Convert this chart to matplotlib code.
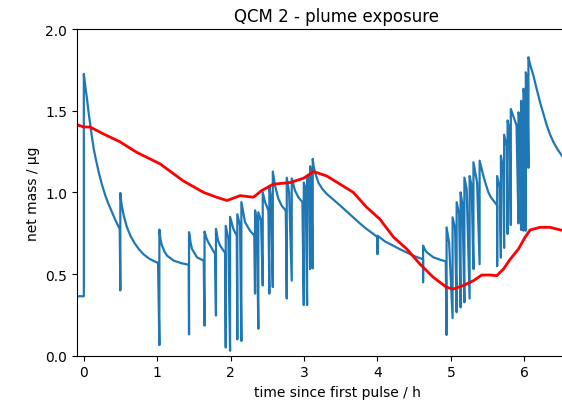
import numpy as np
import matplotlib
matplotlib.use("Agg")
import matplotlib.pyplot as plt

# QCM net mass trace (blue)
# each pulse: a short dip then a jump up, followed by a decay
blue_t = [-0.1, 0.0, 0.0,
          0.02, 0.044, 0.065, 0.089, 0.11, 0.135, 0.165, 0.203, 0.245, 0.293, 0.335, 0.384, 0.435, 0.489,
          0.497, 0.497,
          0.51, 0.525, 0.544, 0.585, 0.634, 0.69, 0.748, 0.81, 0.884, 0.95, 1.011,
          1.029, 1.029,
          1.045, 1.065, 1.10, 1.134, 1.225, 1.33, 1.429,
          1.433, 1.433,
          1.455, 1.474, 1.542, 1.633,
          1.644, 1.644,
          1.67, 1.696, 1.787,
          1.80, 1.80,
          1.825, 1.856, 1.924,
          1.933, 1.933,
          1.969,
          1.992, 1.992,
          2.037, 2.083,
          2.091, 2.091,
          2.128,
          2.146, 2.146,
          2.196, 2.264, 2.323,
          2.332, 2.332,
          2.356,
          2.377, 2.377,
          2.414,
          2.437, 2.437,
          2.469, 2.514,
          2.527, 2.527,
          2.55,
          2.574, 2.574,
          2.59, 2.605, 2.65, 2.696, 2.751,
          2.764, 2.764,
          2.796,
          2.832, 2.832,
          2.877, 2.922, 2.977,
          2.996, 2.996,
          3.023,
          3.041, 3.041,
          3.068,
          3.082, 3.082,
          3.095,
          3.118, 3.118,
          3.13, 3.15, 3.195, 3.25, 3.31, 3.40, 3.49, 3.58, 3.672, 3.76, 3.854, 3.93, 4.0,
          4.0, 4.0,
          4.1, 4.217, 4.30, 4.399, 4.50, 4.621,
          4.621, 4.621,
          4.645, 4.672, 4.762, 4.85, 4.93,
          4.941, 4.941,
          4.975,
          5.023, 5.023,
          5.057,
          5.078, 5.078,
          5.112,
          5.132, 5.132,
          5.157,
          5.184, 5.184,
          5.215,
          5.255, 5.255,
          5.282,
          5.307, 5.307,
          5.357,
          5.391, 5.391,
          5.415, 5.443, 5.475, 5.511, 5.545, 5.579, 5.63,
          5.63, 5.63,
          5.664,
          5.681, 5.681,
          5.711,
          5.725, 5.725,
          5.76,
          5.772, 5.772,
          5.80,
          5.816, 5.816,
          5.847, 5.894,
          5.92, 5.92,
          5.943,
          5.956, 5.956,
          5.977,
          5.988, 5.988,
          6.008,
          6.02, 6.02,
          6.042,
          6.056, 6.056,
          6.08, 6.124, 6.17, 6.215, 6.26, 6.306, 6.35, 6.397, 6.45, 6.511, 6.6, 6.75, 6.95]
blue_v = [0.364, 0.364, 1.725,
          1.65, 1.57, 1.49, 1.41, 1.34, 1.266, 1.20, 1.123, 1.05, 0.98, 0.93, 0.878, 0.825, 0.776,
          0.40, 0.996,
          0.94, 0.90, 0.857, 0.79, 0.735, 0.69, 0.653, 0.622, 0.596, 0.58, 0.568,
          0.065, 0.772,
          0.71, 0.674, 0.636, 0.612, 0.582, 0.566, 0.557,
          0.131, 0.756,
          0.69, 0.653, 0.602, 0.582,
          0.184, 0.76,
          0.72, 0.694, 0.623,
          0.246, 0.776,
          0.71, 0.674, 0.629,
          0.05, 0.795,
          0.715,
          0.03, 0.85,
          0.776, 0.735,
          0.10, 0.866,
          0.796,
          0.09, 0.94,
          0.817, 0.765, 0.735,
          0.38, 0.89,
          0.837,
          0.165, 0.878,
          0.827,
          0.43, 1.0,
          0.94, 0.888,
          0.38, 1.04,
          0.96,
          0.42, 1.127,
          1.08, 1.04, 0.96, 0.918, 0.888,
          0.35, 1.09,
          1.0,
          0.46, 1.085,
          1.01, 0.97, 0.94,
          0.31, 1.06,
          1.02,
          0.31, 1.10,
          1.08,
          0.53, 1.16,
          1.113,
          0.535, 1.205,
          1.16, 1.12, 1.06, 1.02, 0.99, 0.955, 0.92, 0.883, 0.846, 0.81, 0.775, 0.75, 0.725,
          0.623, 0.735,
          0.70, 0.673, 0.653, 0.632, 0.61, 0.59,
          0.45, 0.674,
          0.65, 0.633, 0.602, 0.588, 0.578,
          0.127, 0.786,
          0.694,
          0.23, 0.847,
          0.776,
          0.266, 0.94,
          0.868,
          0.296, 1.0,
          0.93,
          0.327, 1.09,
          1.02,
          0.35, 1.10,
          1.04,
          0.53, 1.184,
          1.06,
          0.56, 1.194,
          1.15, 1.10, 1.05, 1.0, 0.97, 0.95, 0.92,
          0.55, 1.10,
          1.03,
          0.60, 1.225,
          1.14,
          0.66, 1.353,
          1.28,
          0.745, 1.44,
          1.38,
          0.80, 1.51,
          1.47, 1.41,
          0.81, 1.49,
          1.45,
          0.77, 1.56,
          1.51,
          0.765, 1.634,
          1.58,
          0.765, 1.735,
          1.68,
          1.15, 1.827,
          1.78, 1.715, 1.63, 1.55, 1.48, 1.41, 1.355, 1.307, 1.265, 1.225, 1.19, 1.14, 1.09]

# second trace (red)
red_t = [-0.1, 0.0, 0.085, 0.266, 0.49, 0.72, 1.04, 1.355, 1.63, 1.81, 1.95,
         2.13, 2.31, 2.42, 2.58, 2.81, 2.99, 3.13, 3.31, 3.49, 3.67, 3.85,
         4.03, 4.22, 4.40, 4.58, 4.76, 4.94, 5.03, 5.17, 5.31, 5.42, 5.53,
         5.625, 5.715, 5.81, 5.92, 6.01, 6.08, 6.215, 6.35, 6.49, 6.7, 6.95]
red_v = [1.415, 1.40, 1.40, 1.358, 1.31, 1.245, 1.174, 1.07, 1.0, 0.97, 0.95,
         0.98, 0.97, 1.01, 1.05, 1.06, 1.086, 1.127, 1.10, 1.05, 1.0, 0.91,
         0.837, 0.725, 0.653, 0.56, 0.48, 0.419, 0.408, 0.43, 0.46, 0.494, 0.494,
         0.49, 0.53, 0.592, 0.653, 0.725, 0.77, 0.786, 0.786, 0.77, 0.75, 0.73]

fig = plt.figure(figsize=(5.62, 4.06), dpi=100)
ax = fig.add_axes([77/562, 49.3/406, 520/562, 326.7/406])

ax.plot(blue_t, blue_v, color='#1f77b4', lw=1.6)
ax.plot(red_t, red_v, color='red', lw=2.0)

ax.set_xlim(-0.093, 6.99)
ax.set_ylim(0, 2.0)
ax.set_xticks([0, 1, 2, 3, 4, 5, 6])
ax.set_yticks([0.0, 0.5, 1.0, 1.5, 2.0])
ax.set_xlabel('time since first pulse / h')
ax.set_ylabel('net mass / µg')
ax.set_title('QCM 2 - plume exposure')

fig.savefig('out.png', dpi=100)
